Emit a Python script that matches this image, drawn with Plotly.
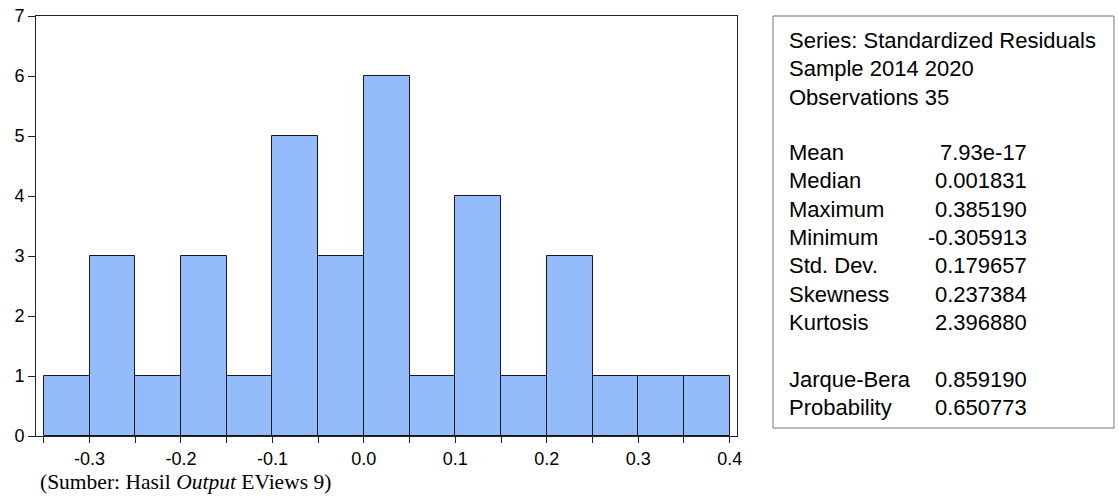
import plotly.graph_objects as go

# ---- data ----
bin_lower = [-0.35, -0.30, -0.25, -0.20, -0.15, -0.10, -0.05, 0.00,
             0.05, 0.10, 0.15, 0.20, 0.25, 0.30, 0.35]
counts = [1, 3, 1, 3, 1, 5, 3, 6, 1, 4, 1, 3, 1, 1, 1]
bin_width = 0.05

x_tick_values = [-0.3, -0.2, -0.1, 0.0, 0.1, 0.2, 0.3, 0.4]
x_tick_labels = ["-0.3", "-0.2", "-0.1", "0.0", "0.1", "0.2", "0.3", "0.4"]
y_tick_values = [0, 1, 2, 3, 4, 5, 6, 7]

header_lines = ["Series: Standardized Residuals", "Sample 2014 2020", "Observations 35"]
stat_names = ["Mean", "Median", "Maximum", "Minimum", "Std. Dev.", "Skewness", "Kurtosis",
              "Jarque-Bera", "Probability"]
stat_values = ["7.93e-17", "0.001831", "0.385190", "-0.305913", "0.179657", "0.237384",
               "2.396880", "0.859190", "0.650773"]
caption = "(Sumber: Hasil <i>Output</i> EViews 9)"

# ---- layout helpers (body margin removed in page, so figure fills window) ----
W, H = 1119, 503
px = lambda x: x / W
py = lambda y: 1 - y / H
FONT = "Arial, Liberation Sans, sans-serif"

fig = go.Figure()
fig.add_trace(go.Bar(
    x=bin_lower, y=counts, width=bin_width, offset=0,
    marker=dict(color="#94BBFA", line=dict(color="#1a1a1a", width=1)),
    hoverinfo="skip",
))

fig.update_layout(
    width=W, height=H,
    margin=dict(l=0, r=0, t=0, b=0),
    paper_bgcolor="white", plot_bgcolor="white",
    showlegend=False, bargap=0,
    font=dict(family=FONT, color="black"),
    xaxis=dict(
        domain=[px(36), px(737)], range=[-0.3585, 0.408],
        tickvals=x_tick_values, ticktext=x_tick_labels,
        ticks="outside", ticklen=6, tickcolor="#222", tickwidth=1,
        minor=dict(dtick=0.05, tick0=-0.35, ticks="outside", ticklen=6,
                   tickcolor="#222", tickwidth=1, showgrid=False),
        showline=True, linecolor="#222", linewidth=1, mirror=True,
        showgrid=False, zeroline=False, automargin=False,
        ticklabeloverflow="allow",
        tickfont=dict(size=18, family=FONT, color="black"),
    ),
    yaxis=dict(
        domain=[py(436), py(16)], range=[0, 7],
        tickvals=y_tick_values,
        ticks="outside", ticklen=7, tickcolor="#222", tickwidth=1,
        showline=True, linecolor="#222", linewidth=1, mirror=True,
        showgrid=False, zeroline=False, automargin=False,
        ticklabeloverflow="allow",
        tickfont=dict(size=18, family=FONT, color="black"),
    ),
)

# stats box
fig.add_shape(type="rect", xref="paper", yref="paper",
              x0=px(773), x1=px(1114), y0=py(428), y1=py(16),
              line=dict(color="#777", width=1), fillcolor="white", layer="below")

header_y = [40, 68.5, 97]
for txt, yy in zip(header_lines, header_y):
    fig.add_annotation(text=txt, xref="paper", yref="paper", x=px(787), y=py(yy),
                       xanchor="left", yanchor="middle", showarrow=False,
                       font=dict(size=22, family=FONT, color="black"))

stat_y = [152, 180, 209, 237, 265, 294, 322, 379, 407]
for name, val, yy in zip(stat_names, stat_values, stat_y):
    fig.add_annotation(text=name, xref="paper", yref="paper", x=px(787), y=py(yy),
                       xanchor="left", yanchor="middle", showarrow=False,
                       font=dict(size=22, family=FONT, color="black"))
    fig.add_annotation(text=val, xref="paper", yref="paper", x=px(1029), y=py(yy),
                       xanchor="right", yanchor="middle", showarrow=False,
                       font=dict(size=22, family=FONT, color="black"))

fig.add_annotation(text=caption, xref="paper", yref="paper", x=px(38), y=py(482),
                   xanchor="left", yanchor="middle", showarrow=False,
                   font=dict(size=21.5, family="Times New Roman, Liberation Serif, serif",
                             color="black"))

fig.write_html("out.html",
               config={"displayModeBar": False},
               post_script="document.body.style.margin='0px';"
                           "document.body.style.overflow='hidden';")
